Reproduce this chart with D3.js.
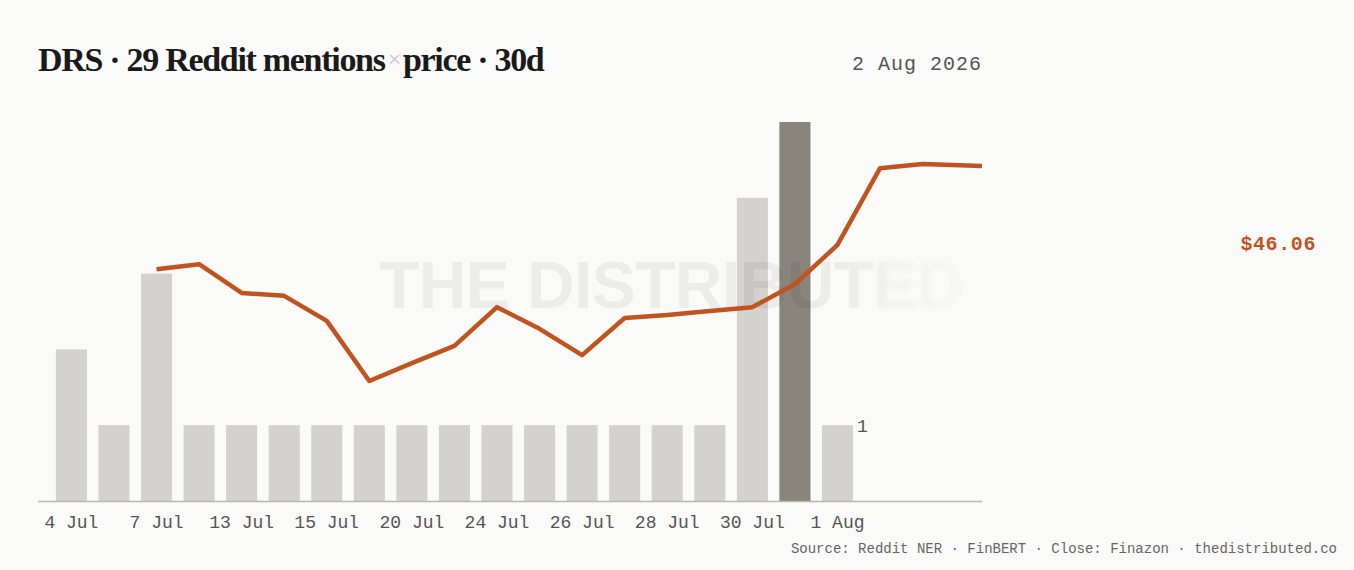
<!DOCTYPE html>
<html>
<head>
<meta charset="utf-8">
<script src="https://cdn.jsdelivr.net/npm/d3@7"></script>
<style>
  body { margin: 0; background: #fafaf8; }
</style>
</head>
<body>
<div id="chart"></div>
<script>
// mentions per day (bars) and daily closes (line)
const ticker = "DRS"
const windowLabel = "30d"
const asOf = "2 Aug 2026"
const mentionDays = ["4 Jul", "5 Jul", "7 Jul", "8 Jul", "13 Jul", "14 Jul", "15 Jul", "17 Jul", "20 Jul", "22 Jul",
    "24 Jul", "25 Jul", "26 Jul", "27 Jul", "28 Jul", "29 Jul", "30 Jul", "31 Jul", "1 Aug"]
const mentions = [2, 1, 3, 1, 1, 1, 1, 1, 1, 1, 1, 1, 1, 1, 1, 1, 4, 5, 1]
const tickDays = ["4 Jul", "7 Jul", "13 Jul", "15 Jul", "20 Jul", "24 Jul", "26 Jul", "28 Jul", "30 Jul", "1 Aug"]
// closes start on the 3rd mention slot, last one is the latest quote
const priceStart = 2
const closes = [45.48, 45.60, 44.91, 44.84, 44.24, 42.80, 43.23, 43.64, 44.57, 44.05,
    43.42, 44.31, 44.38, 44.48, 44.57, 45.12, 46.06, 47.90, 48.00, 47.95]
const lastClose = 46.06
const source = "Source: Reddit NER · FinBERT · Close: Finazon · thedistributed.co"

const w = 1354
const h = 570
const left = 38
const right = 982
const baseY = 501
const slots = closes.length - 1 + priceStart

const svg = d3.select("#chart")
    .append("svg")
    .attr("width", w)
    .attr("height", h)
    .style("background-color", "#fafaf8")

const x = d3.scaleBand()
    .domain(d3.range(slots))
    .range([left, 956])
    .paddingInner(0.27)
    .paddingOuter(0.42)
const yM = d3.scaleLinear()
    .domain([0, d3.max(mentions)])
    .range([baseY, 122])
const yP = d3.scaleLinear()
    .domain(d3.extent(closes))
    .range([381, 164])

// title
const title = svg.append("text")
    .attr("x", left)
    .attr("y", 71)
    .style("font-family", "'Liberation Serif', serif")
    .style("font-weight", 700)
    .style("font-size", "34px")
    .style("letter-spacing", "-1.3px")
    .attr("fill", "#1a1a1a")
title.append("tspan").text(`${ticker} · ${d3.sum(mentions)} Reddit mentions`)
title.append("tspan")
    .attr("dx", 3)
    .attr("dy", -4)
    .attr("fill", "#c4c4c2")
    .style("font-weight", 400)
    .style("font-size", "24px")
    .text("×")
title.append("tspan").attr("dx", 3).attr("dy", 4).text(`price · ${windowLabel}`)

svg.append("text")
    .attr("x", right)
    .attr("y", 70)
    .attr("text-anchor", "end")
    .style("font-family", "'Liberation Mono', monospace")
    .style("font-size", "20px")
    .style("letter-spacing", "1px")
    .attr("fill", "#555")
    .text(asOf)

// bars
const peak = d3.max(mentions)
svg.selectAll(null)
    .data(mentions)
    .enter()
    .append("rect")
    .attr("x", (d, i) => x(i))
    .attr("y", (d) => yM(d))
    .attr("width", x.bandwidth())
    .attr("height", (d) => baseY - yM(d))
    .attr("fill", (d) => d === peak ? "#89847c" : "#d3d2ce")

const lastI = mentions.length - 1
svg.append("text")
    .attr("x", x(lastI) + x.bandwidth() + 4)
    .attr("y", yM(mentions[lastI]) + 7)
    .style("font-family", "'Liberation Mono', monospace")
    .style("font-size", "18px")
    .attr("fill", "#555")
    .text(mentions[lastI])

// watermark, fades and blurs to the right
const defs = svg.append("defs")
const gSharp = defs.append("linearGradient").attr("id", "gSharp")
    .attr("gradientUnits", "userSpaceOnUse").attr("x1", 835).attr("x2", 890).attr("y1", 0).attr("y2", 0)
gSharp.append("stop").attr("offset", 0).attr("stop-color", "#fff")
gSharp.append("stop").attr("offset", 1).attr("stop-color", "#000")
const gSoft = defs.append("linearGradient").attr("id", "gSoft")
    .attr("gradientUnits", "userSpaceOnUse").attr("x1", 835).attr("x2", 970).attr("y1", 0).attr("y2", 0)
gSoft.append("stop").attr("offset", 0).attr("stop-color", "#000")
gSoft.append("stop").attr("offset", 0.3).attr("stop-color", "#aaa")
gSoft.append("stop").attr("offset", 1).attr("stop-color", "#333")
defs.append("mask").attr("id", "mSharp").append("rect")
    .attr("width", w).attr("height", h).attr("fill", "url(#gSharp)")
defs.append("mask").attr("id", "mSoft").append("rect")
    .attr("width", w).attr("height", h).attr("fill", "url(#gSoft)")
defs.append("filter").attr("id", "blur").attr("x", "-5%").attr("width", "110%")
    .append("feGaussianBlur").attr("stdDeviation", 2.5)

const mark = (g) => g.append("text")
    .attr("x", 379)
    .attr("y", 308)
    .style("font-family", "'Liberation Sans', sans-serif")
    .style("font-weight", 700)
    .style("font-size", "66px")
    .style("letter-spacing", "-0.6px")
    .attr("fill", "#000")
    .attr("fill-opacity", 0.055)
    .text("THE DISTRIBUTED")
mark(svg.append("g").attr("mask", "url(#mSharp)"))
mark(svg.append("g").attr("mask", "url(#mSoft)").attr("filter", "url(#blur)"))

// axis
svg.append("line")
    .attr("x1", left)
    .attr("x2", right)
    .attr("y1", baseY + 0.5)
    .attr("y2", baseY + 0.5)
    .attr("stroke", "#b8b7b4")
    .attr("stroke-width", 1.6)

const xAxis = d3.axisBottom(x)
    .tickValues(tickDays.map((t) => mentionDays.indexOf(t)))
    .tickFormat((i) => mentionDays[i])
    .tickSize(0)
    .tickPadding(14)
const ax = svg.append("g")
    .attr("transform", `translate(0, ${baseY})`)
    .call(xAxis)
ax.select(".domain").remove()
ax.selectAll("text")
    .style("font-family", "'Liberation Mono', monospace")
    .style("font-size", "18px")
    .attr("fill", "#555")

// price line
const pts = closes.map((c, i) => [
    i === closes.length - 1 ? right : x(i + priceStart) + x.bandwidth() / 2,
    yP(c)])
svg.append("path")
    .attr("d", d3.line()(pts))
    .attr("fill", "none")
    .attr("stroke", "#c1541e")
    .attr("stroke-width", 4.5)
    .attr("stroke-linejoin", "round")

svg.append("text")
    .attr("x", 1316)
    .attr("y", yP(lastClose) + 5)
    .attr("text-anchor", "end")
    .style("font-family", "'Liberation Mono', monospace")
    .style("font-size", "20px")
    .style("font-weight", 700)
    .style("letter-spacing", "0.6px")
    .attr("fill", "#c1541e")
    .text(`$${lastClose.toFixed(2)}`)

svg.append("text")
    .attr("x", 1337)
    .attr("y", 553)
    .attr("text-anchor", "end")
    .style("font-family", "'Liberation Mono', monospace")
    .style("font-size", "14px")
    .attr("fill", "#666")
    .text(source)
</script>
</body>
</html>
